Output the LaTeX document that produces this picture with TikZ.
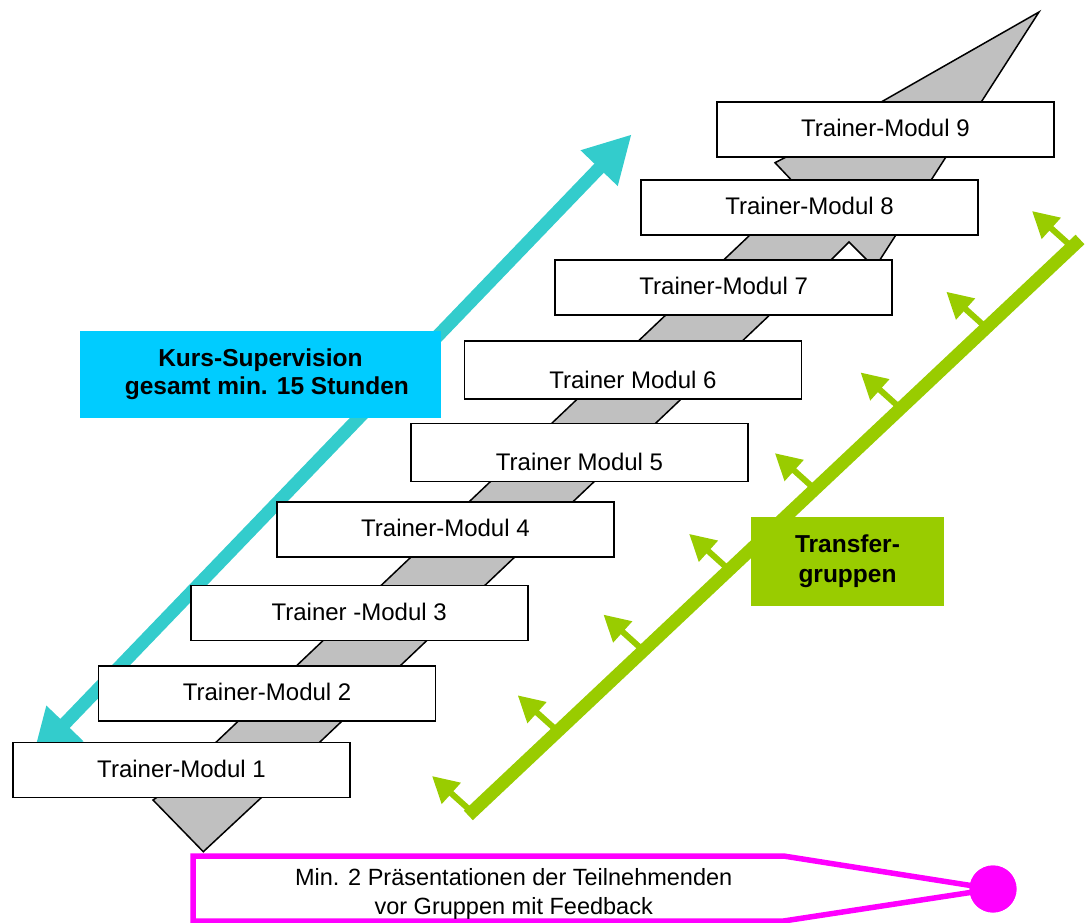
\documentclass[tikz,border=0pt]{standalone}
\usepackage{fontspec}
\setmainfont{Liberation Sans}
\usetikzlibrary{arrows.meta,calc}
\definecolor{cyanarrow}{HTML}{33CCCC}
\definecolor{cyanbox}{HTML}{00CCFF}
\definecolor{grn}{HTML}{99CC00}
\definecolor{mag}{HTML}{FF00FF}
\definecolor{band}{HTML}{C0C0C0}
\tikzset{
  modbox/.style={draw=black, line width=1.6pt, fill=white, minimum width=337pt,
    minimum height=55pt, inner sep=0pt, text height=15pt, text depth=0pt,
    font=\fontsize{24}{29}\selectfont},
  labelbox/.style={inner sep=0pt, align=center, font=\fontsize{24.5}{28}\selectfont\bfseries},
  bandshape/.style={fill=band, draw=black, line width=1.5pt, line join=miter},
  superarrow/.style={draw=cyanarrow, line width=13pt,
    {Triangle[length=47pt,width=48pt]}-{Triangle[length=47pt,width=48pt]}},
  transferline/.style={draw=grn, line width=13pt},
  tickarrow/.style={draw=grn, line width=6pt, -{Triangle[length=26pt,width=27pt]}},
  pennant/.style={draw=mag, line width=5.5pt, line join=miter},
}
\begin{document}
\begin{tikzpicture}[x=1pt, y=-1pt]
\useasboundingbox (0,0) rectangle (1090,922);
\clip (0,0) rectangle (1090,922);

% grey stair band (double arrow)
\path[bandshape] (203.3,851.7) -- (153,800) -- (160.5,795) -- (751,234)
  -- (790.7,179.3) -- (775,162.7) -- (786.7,156.7) -- (881.7,101.7)
  -- (1039,12) -- (879.8,260) -- (770.7,314) -- (262,797) -- cycle;
\path[draw=black, fill=white, line width=1.5pt] (829,262) -- (849,242) -- (869,262);

% supervision arrow
\coordinate (s1) at (32.4,757.3);
\coordinate (s2) at (631.7,134.3);
\draw[superarrow] (s1) -- (s2);

% transfer line with arrows
\coordinate (gA) at (472,812);
\coordinate (gB) at (1072,247);
\foreach \k in {0,...,7} {
  \coordinate (g\k) at ($(gA)!\k/7!(gB)$);
  \draw[tickarrow] (g\k) -- ++(-40,-36);
}
\draw[transferline] ($(gA)!-5pt!(gB)$) -- ($(gB)!-11pt!(gA)$);

% modules
\node[modbox] (m1) at (181.5,769.8) {Trainer-Modul 1};
\node[modbox] (m2) at (267.1,693.4) {Trainer-Modul 2};
\node[modbox] (m3) at (359.2,612.9) {Trainer -Modul 3};
\node[modbox] (m4) at (445.4,529.2) {Trainer-Modul 4};
\node[modbox, minimum height=58pt] (m5) at (579.5,452.3) {\raisebox{-11pt}{Trainer Modul 5}};
\node[modbox, minimum height=58pt] (m6) at (632.9,370) {\raisebox{-11pt}{Trainer Modul 6}};
\node[modbox] (m7) at (723.7,287.2) {Trainer-Modul 7};
\node[modbox] (m8) at (809.5,207.2) {Trainer-Modul 8};
\node[modbox] (m9) at (885.4,129.2) {Trainer-Modul 9};

% labels
\node[labelbox, fill=cyanbox, minimum width=360.7pt, minimum height=86.7pt] (sup) at (260.4,374.3)
  {Kurs-Supervision\\\hspace*{13pt}gesamt min. 15 Stunden};
\node[labelbox, fill=grn, minimum width=193pt, minimum height=89pt,
  font=\fontsize{24.5}{29.3}\selectfont\bfseries] (tr) at (847.5,561.2)
  {\raisebox{2pt}{Transfer-}\\\raisebox{2pt}{gruppen}};

% presentation pennant
\node[circle, fill=mag, minimum size=47pt, inner sep=0pt] (dot) at (993,889) {};
\coordinate (p1) at (193,921);
\coordinate (p2) at (193,856);
\coordinate (p3) at (783.6,856);
\coordinate (p4) at (783.6,921);
\draw[pennant] (p4) -- (p1) -- (p2) -- (p3) -- (dot.center) -- cycle;
\node[circle, fill=mag, minimum size=47pt, inner sep=0pt] at (dot.center) {};
\node[inner sep=0pt, align=center, font=\fontsize{23.5}{29}\selectfont] (pt) at (513.7,893.9)
  {Min. 2 Präsentationen der Teilnehmenden\\vor Gruppen mit Feedback};
\end{tikzpicture}
\end{document}
